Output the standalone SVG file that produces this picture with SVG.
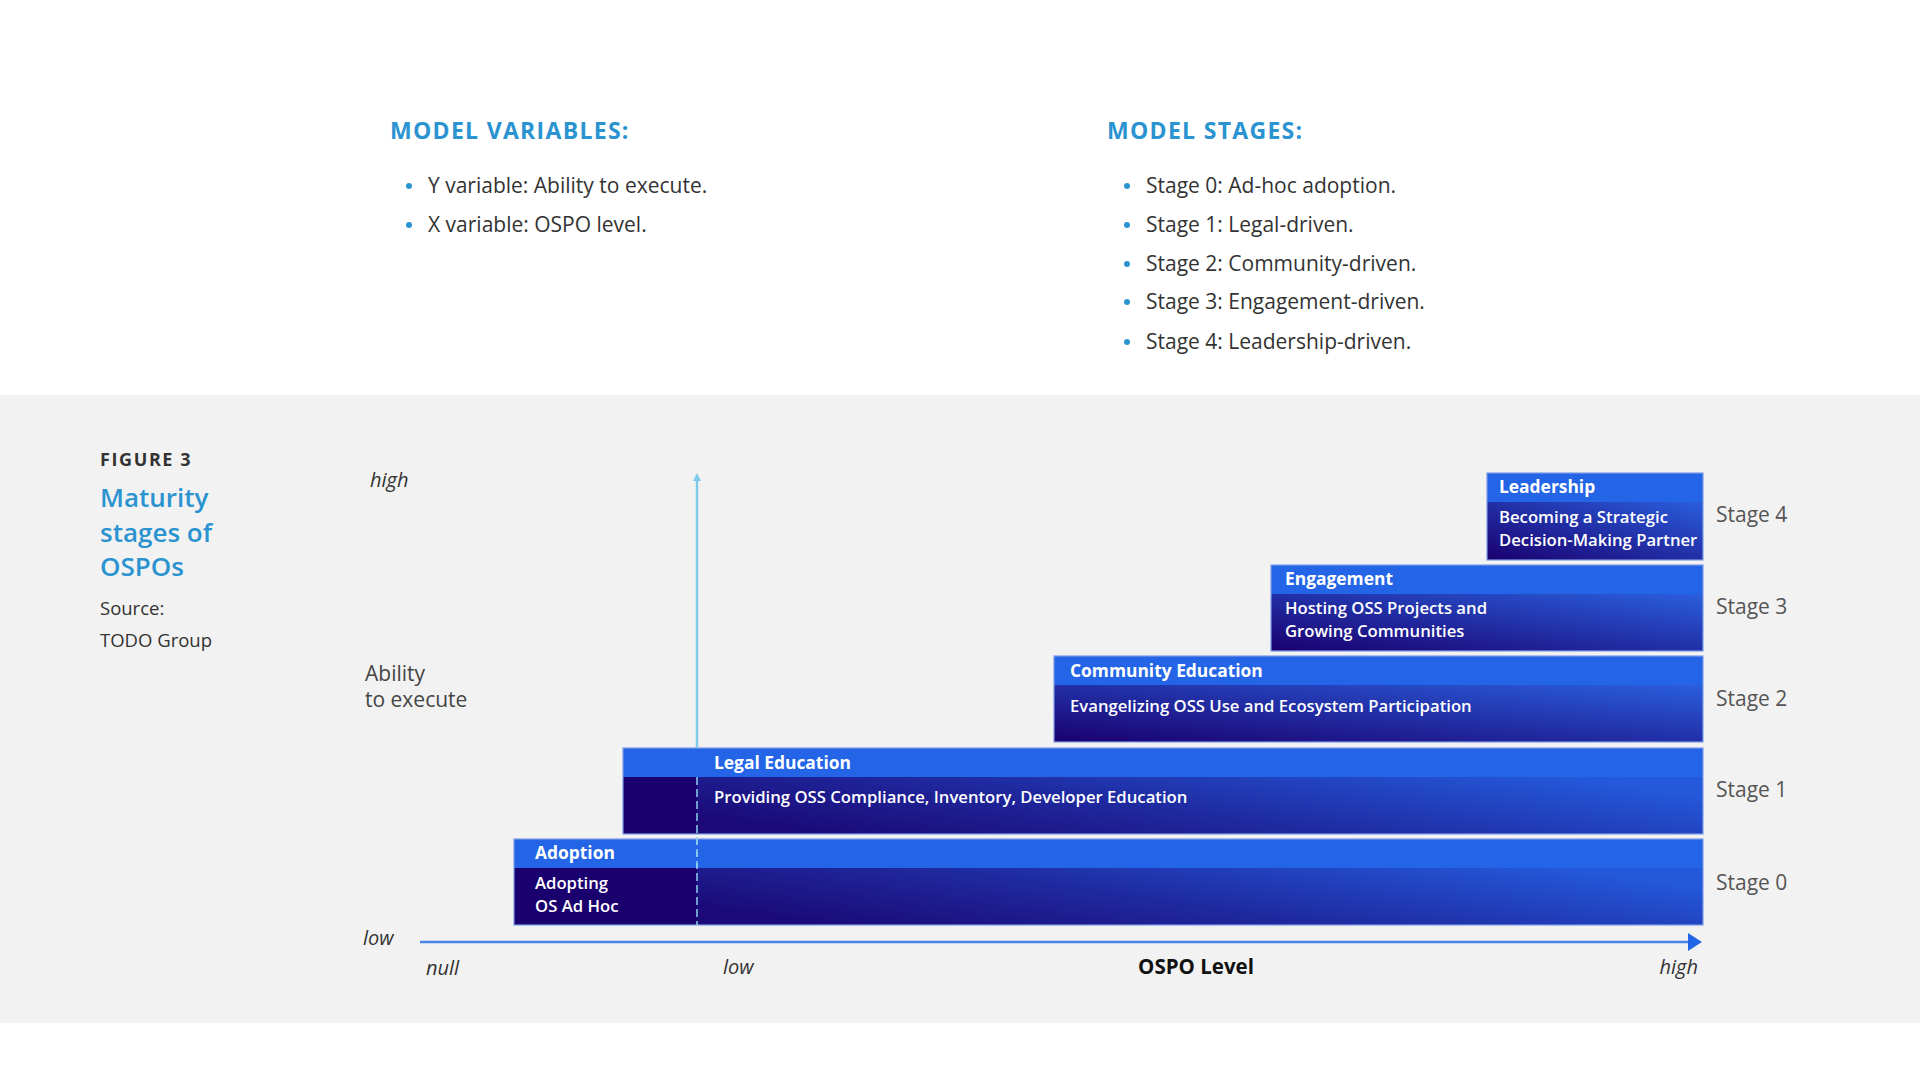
<svg xmlns="http://www.w3.org/2000/svg" width="1920" height="1080" viewBox="0 0 1920 1080">
<defs>
<style>
text{font-family:"Open Sans","Noto Sans","Liberation Sans",sans-serif;}
.h1{font-size:23px;font-weight:700;fill:#2A93D0;letter-spacing:1.3px;}
.li{font-size:21px;fill:#333;}
.dot{fill:#2A93D0;}
.fig{font-size:18px;font-weight:700;fill:#333;letter-spacing:1.6px;}
.title{font-size:26px;font-weight:600;fill:#2A93D0;}
.src{font-size:18.5px;fill:#333;}
.ax{font-size:20px;font-style:italic;fill:#333;}
.yl{font-size:21px;fill:#444;}
.stage{font-size:21px;fill:#555;}
.hd{font-size:17.4px;font-weight:700;fill:#fff;}
.bd{font-size:16.7px;font-weight:600;fill:#fff;}
.hdr{fill:#2365E6;}
.frame{fill:none;stroke:#7E9BE6;stroke-width:1.2;}
</style>
<linearGradient id="g" x1="0" y1="1" x2="1" y2="0">
<stop offset="0" stop-color="#1A006F"/>
<stop offset="1" stop-color="#2A5EDD"/>
</linearGradient>
<linearGradient id="gw" x1="0" y1="0.7" x2="1" y2="0.3">
<stop offset="0" stop-color="#1B0A78"/>
<stop offset="0.45" stop-color="#1F2AA0"/>
<stop offset="1" stop-color="#2459DC"/>
</linearGradient>
</defs>
<rect x="0" y="0" width="1920" height="1080" fill="#FFFFFF"/>
<rect x="0" y="395" width="1920" height="628" fill="#F2F2F2"/>

<g id="model-variables">
<text class="h1" x="390" y="139">MODEL VARIABLES:</text>
<circle class="dot" cx="409" cy="186" r="3"/>
<text class="li" x="428" y="193">Y variable: Ability to execute.</text>
<circle class="dot" cx="409" cy="225" r="3"/>
<text class="li" x="428" y="232">X variable: OSPO level.</text>
</g>

<g id="model-stages">
<text class="h1" x="1107" y="139">MODEL STAGES:</text>
<circle class="dot" cx="1127" cy="186" r="3"/>
<text class="li" x="1146" y="193">Stage 0: Ad-hoc adoption.</text>
<circle class="dot" cx="1127" cy="225" r="3"/>
<text class="li" x="1146" y="232">Stage 1: Legal-driven.</text>
<circle class="dot" cx="1127" cy="264" r="3"/>
<text class="li" x="1146" y="271">Stage 2: Community-driven.</text>
<circle class="dot" cx="1127" cy="302" r="3"/>
<text class="li" x="1146" y="309">Stage 3: Engagement-driven.</text>
<circle class="dot" cx="1127" cy="342" r="3"/>
<text class="li" x="1146" y="349">Stage 4: Leadership-driven.</text>
</g>

<g id="figure-caption">
<text class="fig" x="100" y="466">FIGURE 3</text>
<text class="title" x="100" y="507">Maturity</text>
<text class="title" x="100" y="542">stages of</text>
<text class="title" x="100" y="576">OSPOs</text>
<text class="src" x="100" y="615">Source:</text>
<text class="src" x="100" y="647">TODO Group</text>
</g>

<g id="axis-labels">
<text class="ax" x="370" y="487">high</text>
<text class="yl" x="365" y="681">Ability</text>
<text class="yl" x="365" y="707">to execute</text>
<text class="ax" x="363" y="945">low</text>
<text class="ax" x="426" y="975">null</text>
<text class="ax" x="723" y="974">low</text>
<text x="1196" y="974" text-anchor="middle" style="font-size:20.5px;font-weight:700;fill:#111">OSPO Level</text>
<text class="ax" x="1698" y="974" text-anchor="end">high</text>
</g>

<g id="stage4">
<rect x="1487" y="502" width="216" height="58" fill="url(#g)"/>
<rect class="hdr" x="1487" y="473" width="216" height="29"/>
<rect class="frame" x="1487" y="473" width="216" height="87"/>
<text class="hd" x="1499" y="493">Leadership</text>
<text class="bd" x="1499" y="523">Becoming a Strategic</text>
<text class="bd" x="1499" y="546">Decision-Making Partner</text>
<text class="stage" x="1716" y="522">Stage 4</text>
</g>

<g id="stage3">
<rect x="1271" y="594" width="432" height="57" fill="url(#g)"/>
<rect class="hdr" x="1271" y="565" width="432" height="29"/>
<rect class="frame" x="1271" y="565" width="432" height="86"/>
<text class="hd" x="1285" y="585">Engagement</text>
<text class="bd" x="1285" y="614">Hosting OSS Projects and</text>
<text class="bd" x="1285" y="637">Growing Communities</text>
<text class="stage" x="1716" y="614">Stage 3</text>
</g>

<g id="stage2">
<rect x="1054" y="685" width="649" height="57" fill="url(#g)"/>
<rect class="hdr" x="1054" y="656" width="649" height="29"/>
<rect class="frame" x="1054" y="656" width="649" height="86"/>
<text class="hd" x="1070" y="677">Community Education</text>
<text class="bd" x="1070" y="712">Evangelizing OSS Use and Ecosystem Participation</text>
<text class="stage" x="1716" y="706">Stage 2</text>
</g>

<g id="stage1">
<rect x="623" y="777" width="74" height="57" fill="#1A006F"/>
<rect x="697" y="777" width="1006" height="57" fill="url(#gw)"/>
<rect class="hdr" x="623" y="748" width="1080" height="29"/>
<rect class="frame" x="623" y="748" width="1080" height="86"/>
<text class="hd" x="714" y="769">Legal Education</text>
<text class="bd" x="714" y="803">Providing OSS Compliance, Inventory, Developer Education</text>
<text class="stage" x="1716" y="797">Stage 1</text>
</g>

<g id="stage0">
<rect x="514" y="868" width="183" height="57" fill="#1A006F"/>
<rect x="697" y="868" width="1006" height="57" fill="url(#gw)"/>
<rect class="hdr" x="514" y="839" width="1189" height="29"/>
<rect class="frame" x="514" y="839" width="1189" height="86"/>
<text class="hd" x="535" y="859">Adoption</text>
<text class="bd" x="535" y="889">Adopting</text>
<text class="bd" x="535" y="912">OS Ad Hoc</text>
<text class="stage" x="1716" y="890">Stage 0</text>
</g>

<g id="connectors">
<line x1="697" y1="478" x2="697" y2="748" stroke="#7CCBEA" stroke-width="2.5"/>
<path d="M693,481 L697,473 L701,481 Z" fill="#7CCBEA"/>
<line x1="697" y1="777" x2="697" y2="925" stroke="#8FCFEE" stroke-width="1.5" stroke-dasharray="8,4"/>
<line x1="697" y1="839" x2="697" y2="868" stroke="#8FCFEE" stroke-width="1.5" stroke-dasharray="6,6"/>
<line x1="420" y1="942" x2="1690" y2="942" stroke="#4A84E8" stroke-width="2.5"/>
<path d="M1688,933 L1702,942 L1688,951 Z" fill="#2365E6"/>
</g>
</svg>
